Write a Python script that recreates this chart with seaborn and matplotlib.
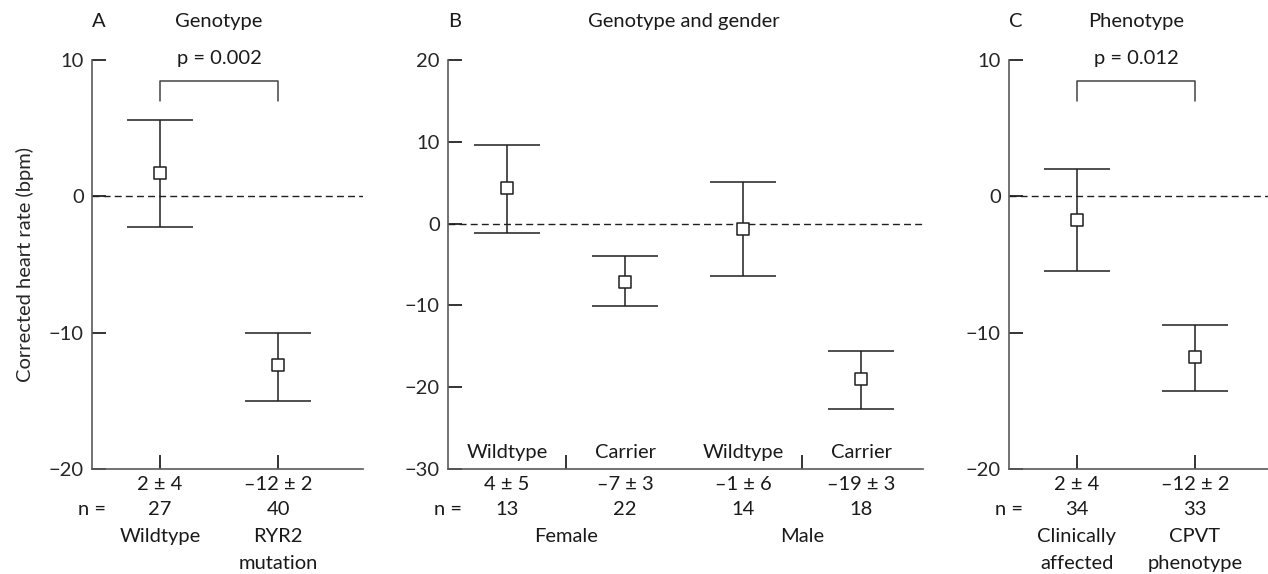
import numpy as np
import pandas as pd
import seaborn as sns
import matplotlib.pyplot as plt
import matplotlib.transforms as mtransforms

# A: genotype
geno_groups = ['Wildtype', 'RYR2\nmutation']
geno_mean = [1.7, -12.4]
geno_low = [-2.25, -15.0]
geno_high = [5.6, -10.0]
geno_stats = ['2 ± 4', '–12 ± 2']
geno_n = [27, 40]
geno_p = 'p = 0.002'

# B: genotype and gender
sex_groups = ['Wildtype', 'Carrier', 'Wildtype', 'Carrier']
sex_labels = ['Female', 'Male']
sex_mean = [4.3, -7.1, -0.7, -19.0]
sex_low = [-1.2, -10.1, -6.4, -22.7]
sex_high = [9.55, -4.0, 5.1, -15.6]
sex_stats = ['4 ± 5', '–7 ± 3', '–1 ± 6', '–19 ± 3']
sex_n = [13, 22, 14, 18]

# C: phenotype
pheno_groups = ['Clinically\naffected', 'CPVT\nphenotype']
pheno_mean = [-1.7, -11.8]
pheno_low = [-5.5, -14.25]
pheno_high = [2.0, -9.45]
pheno_stats = ['2 ± 4', '–12 ± 2']
pheno_n = [34, 33]
pheno_p = 'p = 0.012'

sns.set_style('ticks')
plt.rcParams['font.family'] = ['Lato', 'DejaVu Sans']
plt.rcParams['text.color'] = '#1a1a1a'

FS = 14.5
LINE = '#1f1f1f'
SPINE = '#5a5a5a'
W, H = 1268, 574
ROWS = [-0.039, -0.098, -0.166, -0.232]

fig = plt.figure(figsize=(W / 100, H / 100), dpi=100)
axA = fig.add_axes([92 / W, 1 - 469 / H, 271 / W, 409 / H])
axB = fig.add_axes([448 / W, 1 - 469 / H, 475 / W, 409 / H])
axC = fig.add_axes([1009 / W, 1 - 469 / H, 259 / W, 409 / H])


def draw_points(ax, means, lows, highs):
    df = pd.DataFrame({'pos': np.arange(len(means)), 'mean': means,
                       'low': lows, 'high': highs})
    yerr = [df['mean'] - df['low'], df['high'] - df['mean']]
    ax.errorbar(df['pos'], df['mean'], yerr=yerr, fmt='none', ecolor=LINE,
                elinewidth=1.1, capsize=24, capthick=1.1, zorder=2)
    sns.scatterplot(data=df, x='pos', y='mean', marker='s', s=70,
                    color='white', edgecolor=LINE, linewidth=1.1,
                    zorder=3, ax=ax, legend=False)


def style_axis(ax, ylim, yticks, xlim, xticks):
    ax.set_xlim(*xlim)
    ax.set_ylim(*ylim)
    ax.set_yticks(yticks)
    ax.set_xticks(xticks)
    ax.set_xticklabels([''] * len(xticks))
    ax.set_xlabel('')
    ax.set_ylabel('')
    sns.despine(ax=ax)
    for s in ['left', 'bottom']:
        ax.spines[s].set_color(SPINE)
        ax.spines[s].set_linewidth(1.2)
    ax.tick_params(direction='in', length=10, width=1.2, color='#111111',
                   labelsize=FS, pad=6)
    ax.axhline(0, color=LINE, lw=1.0, ls=(0, (5, 3)), zorder=1)


def head(ax, letter, title, xmid):
    tr = mtransforms.blended_transform_factory(ax.transData, ax.transAxes)
    ax.text(0, 1.093, letter, transform=ax.transAxes, ha='left', va='center', fontsize=FS)
    ax.text(xmid, 1.093, title, transform=tr, ha='center', va='center', fontsize=FS)


def bracket(ax, ptext, y0, y1):
    ax.plot([0, 0, 1, 1], [y1, y0, y0, y1], color='#444444', lw=1.1, clip_on=False)
    ax.text(0.5, 10.1, ptext, ha='center', va='center', fontsize=FS)


def bottom_rows(ax, stats, ns):
    tr = mtransforms.blended_transform_factory(ax.transData, ax.transAxes)
    for i, (st, n) in enumerate(zip(stats, ns)):
        ax.text(i, ROWS[0], st, transform=tr, ha='center', va='center', fontsize=FS)
        ax.text(i, ROWS[1], str(n), transform=tr, ha='center', va='center', fontsize=FS)
    ax.text(0, ROWS[1], 'n =', transform=ax.transAxes, ha='center', va='center', fontsize=FS)


def names(ax, groups):
    tr = mtransforms.blended_transform_factory(ax.transData, ax.transAxes)
    for i, g in enumerate(groups):
        for j, part in enumerate(g.split('\n')):
            ax.text(i, ROWS[2 + j], part, transform=tr, ha='center', va='center', fontsize=FS)


# panel A
draw_points(axA, geno_mean, geno_low, geno_high)
style_axis(axA, (-20, 10), [10, 0, -10, -20], (-0.576, 1.72), [0, 1])
head(axA, 'A', 'Genotype', 0.5)
bracket(axA, geno_p, 8.44, 6.97)
bottom_rows(axA, geno_stats, geno_n)
names(axA, geno_groups)
axA.set_ylabel('Corrected heart rate (bpm)', fontsize=FS)
axA.yaxis.set_label_coords(-0.214, 0.5)

# panel B
draw_points(axB, sex_mean, sex_low, sex_high)
style_axis(axB, (-30, 20), [20, 10, 0, -10, -20, -30], (-0.5, 3.525), [0.5, 2.5])
head(axB, 'B', 'Genotype and gender', 1.5)
bottom_rows(axB, sex_stats, sex_n)
for i, g in enumerate(sex_groups):
    axB.text(i, -28.0, g, ha='center', va='center', fontsize=FS)
trB = mtransforms.blended_transform_factory(axB.transData, axB.transAxes)
for k, lab in enumerate(sex_labels):
    axB.text(0.5 + 2 * k, ROWS[2], lab, transform=trB, ha='center', va='center', fontsize=FS)

# panel C
draw_points(axC, pheno_mean, pheno_low, pheno_high)
style_axis(axC, (-20, 10), [10, 0, -10, -20], (-0.576, 1.619), [0, 1])
head(axC, 'C', 'Phenotype', 0.5)
bracket(axC, pheno_p, 8.44, 6.97)
bottom_rows(axC, pheno_stats, pheno_n)
names(axC, pheno_groups)

fig.savefig('out.png', dpi=100)
